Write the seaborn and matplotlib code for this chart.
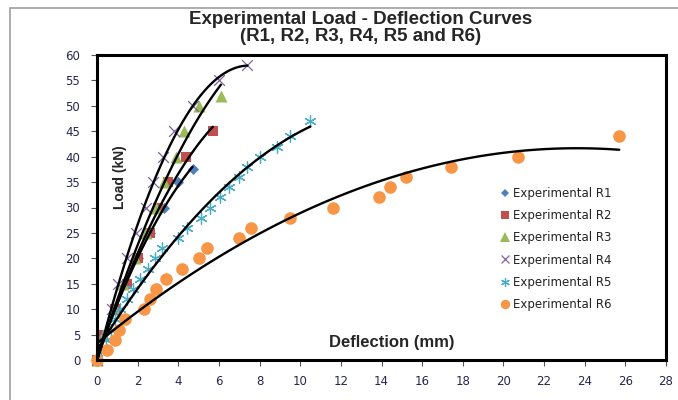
import numpy as np
import pandas as pd
import matplotlib
matplotlib.use("Agg")
import matplotlib.pyplot as plt
import seaborn as sns
from matplotlib.lines import Line2D

# ---------------- data ----------------
series_names = ["Experimental R1", "Experimental R2", "Experimental R3",
                "Experimental R4", "Experimental R5", "Experimental R6"]

r1_x = [0, 0.3, 0.9, 1.5, 2.0, 2.6, 3.3, 4.0, 4.7]
r1_y = [0, 5, 10, 15, 20, 25, 30, 35, 37.5]

r2_x = [0, 0.3, 0.9, 1.5, 2.0, 2.6, 3.0, 3.5, 4.4, 5.7]
r2_y = [0, 5, 10, 15, 20, 25, 30, 35, 40, 45]

r3_x = [0, 0.3, 0.85, 1.3, 1.85, 2.4, 2.9, 3.3, 3.9, 4.3, 5.0, 6.1]
r3_y = [0, 5, 10, 15, 20, 25, 30, 35, 40, 45, 50, 52]

r4_x = [0, 0.3, 0.75, 1.05, 1.5, 1.9, 2.4, 2.75, 3.25, 3.8, 4.7, 6.0, 7.4]
r4_y = [0, 5, 10, 15, 20, 25, 30, 35, 40, 45, 50, 55, 58]

r5_x = [0, 0.2, 0.45, 0.7, 0.9, 1.14, 1.48, 1.78, 2.13, 2.5, 2.87, 3.2,
        4.0, 4.45, 5.1, 5.55, 6.05, 6.5, 7.0, 7.4, 8.0, 8.85, 9.5, 10.5]
r5_y = [0, 2, 4, 6, 8, 10, 12, 14, 16, 18, 20, 22,
        24, 26, 28, 30, 32, 34, 36, 38, 40, 42, 44, 47]

r6_x = [0, 0.5, 0.9, 1.1, 1.4, 2.3, 2.6, 2.9, 3.4, 4.2, 5.0, 5.4,
        7.0, 7.6, 9.5, 11.6, 13.9, 14.4, 15.2, 17.4, 20.7, 25.7]
r6_y = [0, 2, 4, 6, 8, 10, 12, 14, 16, 18, 20, 22,
        24, 26, 28, 30, 32, 34, 36, 38, 40, 44]

x_ticks = list(range(0, 29, 2))
y_ticks = list(range(0, 61, 5))

title_text = "Experimental Load - Deflection Curves\n(R1, R2, R3, R4, R5 and R6)"
x_label = "Deflection (mm)"
y_label = "Load (kN)"

# ---------------- style ----------------
sns.set_style("white")
plt.rcParams['font.family'] = ['DejaVu Sans']

colors = ["#4F81BD", "#C0504D", "#9BBB59", "#8064A2", "#4BACC6", "#F79646"]
markers = ["D", "s", "^", "x", (6, 2, 0), "o"]
sizes = [32, 62, 75, 60, 70, 82]

xs_all = [r1_x, r2_x, r3_x, r4_x, r5_x, r6_x]
ys_all = [r1_y, r2_y, r3_y, r4_y, r5_y, r6_y]

fig = plt.figure(figsize=(6.78, 4.0), dpi=100)
ax = fig.add_axes([97 / 678, 40 / 400, (666 - 97) / 678, (360 - 55) / 400])

frames = []
for name, xs, ys in zip(series_names, xs_all, ys_all):
    frames.append(pd.DataFrame({"x": xs, "y": ys, "series": name}))
df = pd.concat(frames, ignore_index=True)

handles = []
for i, name in enumerate(series_names):
    sub = df[df["series"] == name]
    m = markers[i]
    filled = m not in ("x", (6, 2, 0))
    if filled:
        sns.scatterplot(data=sub, x="x", y="y", marker=m, s=sizes[i],
                        color=colors[i], edgecolor=colors[i], linewidth=0,
                        ax=ax, zorder=3 + i, legend=False, clip_on=False)
    else:
        sns.scatterplot(data=sub, x="x", y="y", marker=m, s=sizes[i],
                        color=colors[i], linewidth=0.9,
                        ax=ax, zorder=3 + i, legend=False, clip_on=False)
    handles.append(Line2D([], [], linestyle="none", marker=m,
                          markersize=np.sqrt(sizes[i]) * 0.75,
                          color=colors[i], markeredgecolor=colors[i],
                          markeredgewidth=0.9 if not filled else 0,
                          label=name))

for i, name in enumerate(series_names):
    sub = df[df["series"] == name]
    sns.regplot(data=sub, x="x", y="y", order=2, ci=None, scatter=False,
                truncate=True, color="black",
                line_kws={"lw": 1.7, "zorder": 10}, ax=ax)

ax.set_xlim(0, 28)
ax.set_ylim(0, 60)
ax.set_xticks(x_ticks)
ax.set_yticks(y_ticks)
ax.set_xlabel("")
ax.set_ylabel("")
tick_col = "#262650"
ax.tick_params(axis="both", direction="out", length=4, width=0.8,
               color="#555555", labelsize=8.5, labelcolor=tick_col,
               bottom=True, left=True)
ax.tick_params(axis="x", pad=7)
ax.tick_params(axis="y", pad=8)
for sp in ax.spines.values():
    sp.set_visible(True)
    sp.set_color("black")
    sp.set_linewidth(2.2)
    sp.set_zorder(20)

ax.text(1.15, 36, y_label, rotation=90, ha="center", va="center",
        fontsize=10, fontweight="bold", family="Liberation Sans")
ax.text(14.5, 3.5, x_label, ha="center", va="center",
        fontsize=12, fontweight="bold", family="Liberation Sans")

fig.text(361 / 678, 1 - 28 / 400, title_text, ha="center", va="center",
         fontsize=13.5, fontweight="bold", family="Liberation Sans",
         linespacing=1.0)

ax.legend(handles=handles, loc="upper left",
          bbox_to_anchor=((500 - 97) / 569, (360 - 187) / 305),
          frameon=False, fontsize=8.5, handlelength=0.8,
          handletextpad=0.3, labelspacing=0.78, borderpad=0,
          borderaxespad=0, labelcolor="#222222")

# outer chart border (gray)
fig.add_artist(Line2D([10 / 678, 1.0], [1 - 8 / 400, 1 - 8 / 400],
                      transform=fig.transFigure, color="#A0A0A0", lw=1.2))
fig.add_artist(Line2D([10 / 678, 10 / 678], [0.0, 1 - 8 / 400],
                      transform=fig.transFigure, color="#A0A0A0", lw=1.2))

fig.savefig("out.png", dpi=100, facecolor="white")
